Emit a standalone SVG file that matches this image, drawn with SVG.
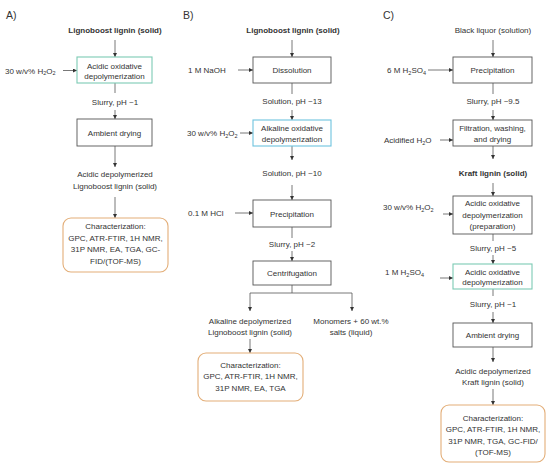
<svg xmlns="http://www.w3.org/2000/svg" width="550" height="469" viewBox="0 0 550 469">
<style>
text{font-family:"Liberation Sans",Arial,sans-serif;font-size:8px;fill:#333}
.c{text-anchor:middle}
.b{font-weight:bold}
.h{font-size:10.5px}
.box{fill:#fff;stroke:#555;stroke-width:0.9}
.teal{fill:#fff;stroke:#7ccbb4;stroke-width:1.1}
.cyan{fill:#fff;stroke:#6ec3de;stroke-width:1.1}
.ch{fill:#fff;stroke:#e3ae78;stroke-width:1.1}
.ln{fill:none;stroke:#555;stroke-width:0.8}
.ar{fill:none;stroke:#555;stroke-width:0.8;marker-end:url(#ah)}
.s{font-size:5.5px}
</style>
<defs>
<marker id="ah" viewBox="0 0 6 6" refX="6" refY="3" markerWidth="4" markerHeight="4" markerUnits="userSpaceOnUse" orient="auto">
<path d="M0,0 L6,3 L0,6 z" fill="#333"/>
</marker>
</defs>
<rect width="550" height="469" fill="#fff"/>

<g id="connectors">
<!-- A -->
<line class="ar" x1="115" y1="40" x2="115" y2="57"/>
<line class="ar" x1="63" y1="70.5" x2="77" y2="70.5"/>
<line class="ln" x1="115" y1="83" x2="115" y2="93"/>
<line class="ar" x1="115" y1="110" x2="115" y2="119"/>
<line class="ar" x1="115" y1="146" x2="115" y2="167"/>
<line class="ar" x1="115" y1="197" x2="115" y2="218"/>
<!-- B -->
<line class="ar" x1="292" y1="40" x2="292" y2="57"/>
<line class="ar" x1="238" y1="70" x2="253" y2="70"/>
<line class="ln" x1="292" y1="83" x2="292" y2="94"/>
<line class="ar" x1="292" y1="110" x2="292" y2="120"/>
<line class="ar" x1="240" y1="133" x2="253" y2="133"/>
<line class="ar" x1="292" y1="146" x2="292" y2="160"/>
<line class="ar" x1="292" y1="185" x2="292" y2="200"/>
<line class="ar" x1="235" y1="213" x2="253" y2="213"/>
<line class="ln" x1="292" y1="227" x2="292" y2="238"/>
<line class="ar" x1="292" y1="251" x2="292" y2="261"/>
<polyline class="ln" points="292,285 292,293"/>
<polyline class="ar" points="250,293 250,311"/>
<polyline class="ln" points="250,293 352,293"/>
<polyline class="ar" points="352,293 352,311"/>
<line class="ar" x1="250" y1="339" x2="250" y2="353"/>
<!-- C -->
<line class="ar" x1="493" y1="40" x2="493" y2="57"/>
<line class="ar" x1="428" y1="70" x2="453" y2="70"/>
<line class="ln" x1="493" y1="83" x2="493" y2="94"/>
<line class="ar" x1="493" y1="110" x2="493" y2="120"/>
<line class="ar" x1="440" y1="140" x2="453" y2="140"/>
<line class="ar" x1="493" y1="146" x2="493" y2="159"/>
<line class="ar" x1="493" y1="183" x2="493" y2="196"/>
<line class="ar" x1="443" y1="214" x2="453" y2="214"/>
<line class="ln" x1="493" y1="234" x2="493" y2="241"/>
<line class="ar" x1="493" y1="255" x2="493" y2="264"/>
<line class="ar" x1="440" y1="278" x2="453" y2="278"/>
<line class="ln" x1="493" y1="289" x2="493" y2="296"/>
<line class="ar" x1="493" y1="312" x2="493" y2="323"/>
<line class="ar" x1="493" y1="347" x2="493" y2="362"/>
<line class="ar" x1="493" y1="389" x2="493" y2="405"/>
</g>

<g id="panel-labels">
<text class="h" x="6" y="19">A)</text>
<text class="h" x="183" y="19">B)</text>
<text class="h" x="383" y="19">C)</text>
</g>

<!-- Panel A -->
<g id="a-start"><text class="c b" x="115" y="33">Lignoboost lignin (solid)</text></g>
<g id="a-h2o2"><text x="5" y="73.5">30 w/v% H<tspan class="s" dy="1.5">2</tspan><tspan dy="-1.5">O</tspan><tspan class="s" dy="1.5">2</tspan></text></g>
<g id="a-acidic"><rect class="teal" x="77" y="57" width="75" height="26"/>
<text class="c" x="114.5" y="68.5">Acidic oxidative</text><text class="c" x="114.5" y="79">depolymerization</text></g>
<g id="a-slurry"><text class="c" x="115" y="104.5">Slurry, pH ~1</text></g>
<g id="a-drying"><rect class="box" x="77" y="119" width="75" height="27"/>
<text class="c" x="114.5" y="135.5">Ambient drying</text></g>
<g id="a-product"><text class="c" x="115" y="177">Acidic depolymerized</text><text class="c" x="115" y="189">Lignoboost lignin (solid)</text></g>
<g id="a-char"><rect class="ch" x="63" y="218" width="105" height="54" rx="8"/>
<text class="c" x="115.5" y="229">Characterization:</text>
<text class="c" x="115.5" y="240.5">GPC, ATR-FTIR, 1H NMR,</text>
<text class="c" x="115.5" y="252">31P NMR, EA, TGA, GC-</text>
<text class="c" x="115.5" y="263.5">FID/(TOF-MS)</text></g>

<!-- Panel B -->
<g id="b-start"><text class="c b" x="293" y="33">Lignoboost lignin (solid)</text></g>
<g id="b-naoh"><text x="188" y="73">1 M NaOH</text></g>
<g id="b-dissolution"><rect class="box" x="253" y="57" width="78" height="26"/>
<text class="c" x="292" y="73">Dissolution</text></g>
<g id="b-sol13"><text class="c" x="292" y="104">Solution, pH ~13</text></g>
<g id="b-h2o2"><text x="187" y="136">30 w/v% H<tspan class="s" dy="1.5">2</tspan><tspan dy="-1.5">O</tspan><tspan class="s" dy="1.5">2</tspan></text></g>
<g id="b-alkaline"><rect class="cyan" x="253" y="120" width="78" height="26"/>
<text class="c" x="292" y="131">Alkaline oxidative</text><text class="c" x="292" y="142">depolymerization</text></g>
<g id="b-sol10"><text class="c" x="292" y="176">Solution, pH ~10</text></g>
<g id="b-hcl"><text x="188" y="216">0.1 M HCl</text></g>
<g id="b-precip"><rect class="box" x="253" y="200" width="78" height="27"/>
<text class="c" x="292" y="216.5">Precipitation</text></g>
<g id="b-slurry"><text class="c" x="292" y="247">Slurry, pH ~2</text></g>
<g id="b-centri"><rect class="box" x="253" y="261" width="78" height="24"/>
<text class="c" x="292" y="276">Centrifugation</text></g>
<g id="b-product"><text class="c" x="250" y="324">Alkaline depolymerized</text><text class="c" x="250" y="335">Lignoboost lignin (solid)</text></g>
<g id="b-monomers"><text class="c" x="351" y="324">Monomers + 60 wt.%</text><text class="c" x="351" y="335">salts (liquid)</text></g>
<g id="b-char"><rect class="ch" x="198" y="353" width="105" height="48" rx="8"/>
<text class="c" x="250.5" y="367.5">Characterization:</text>
<text class="c" x="250.5" y="379">GPC, ATR-FTIR, 1H NMR,</text>
<text class="c" x="250.5" y="390.5">31P NMR, EA, TGA</text></g>

<!-- Panel C -->
<g id="c-start"><text class="c" x="493" y="33">Black liquor (solution)</text></g>
<g id="c-h2so4-6"><text x="387" y="73">6 M H<tspan class="s" dy="1.5">2</tspan><tspan dy="-1.5">SO</tspan><tspan class="s" dy="1.5">4</tspan></text></g>
<g id="c-precip"><rect class="box" x="453" y="57" width="79" height="26"/>
<text class="c" x="492.5" y="73">Precipitation</text></g>
<g id="c-slurry95"><text class="c" x="493" y="104">Slurry, pH ~9.5</text></g>
<g id="c-water"><text x="384" y="143">Acidified H<tspan class="s" dy="1.5">2</tspan><tspan dy="-1.5">O</tspan></text></g>
<g id="c-filtration"><rect class="box" x="453" y="120" width="79" height="26"/>
<text class="c" x="492.5" y="131">Filtration, washing,</text><text class="c" x="492.5" y="142">and drying</text></g>
<g id="c-kraft"><text class="c b" x="493" y="176">Kraft lignin (solid)</text></g>
<g id="c-h2o2"><text x="383" y="210">30 w/v% H<tspan class="s" dy="1.5">2</tspan><tspan dy="-1.5">O</tspan><tspan class="s" dy="1.5">2</tspan></text></g>
<g id="c-prep"><rect class="box" x="453" y="196" width="79" height="38"/>
<text class="c" x="492.5" y="206">Acidic oxidative</text><text class="c" x="492.5" y="217.5">depolymerization</text><text class="c" x="492.5" y="229">(preparation)</text></g>
<g id="c-slurry5"><text class="c" x="493" y="251">Slurry, pH ~5</text></g>
<g id="c-h2so4-1"><text x="385" y="275">1 M H<tspan class="s" dy="1.5">2</tspan><tspan dy="-1.5">SO</tspan><tspan class="s" dy="1.5">4</tspan></text></g>
<g id="c-acidic"><rect class="teal" x="453" y="264" width="79" height="25"/>
<text class="c" x="492.5" y="274.5">Acidic oxidative</text><text class="c" x="492.5" y="285">depolymerization</text></g>
<g id="c-slurry1"><text class="c" x="493" y="307">Slurry, pH ~1</text></g>
<g id="c-drying"><rect class="box" x="453" y="323" width="79" height="24"/>
<text class="c" x="492.5" y="338">Ambient drying</text></g>
<g id="c-product"><text class="c" x="493" y="374">Acidic depolymerized</text><text class="c" x="493" y="385">Kraft lignin (solid)</text></g>
<g id="c-char"><rect class="ch" x="441" y="405" width="104" height="57" rx="8"/>
<text class="c" x="493" y="420.5">Characterization:</text>
<text class="c" x="493" y="432">GPC, ATR-FTIR, 1H NMR,</text>
<text class="c" x="493" y="443.5">31P NMR, TGA, GC-FID/</text>
<text class="c" x="493" y="455">(TOF-MS)</text></g>
</svg>
